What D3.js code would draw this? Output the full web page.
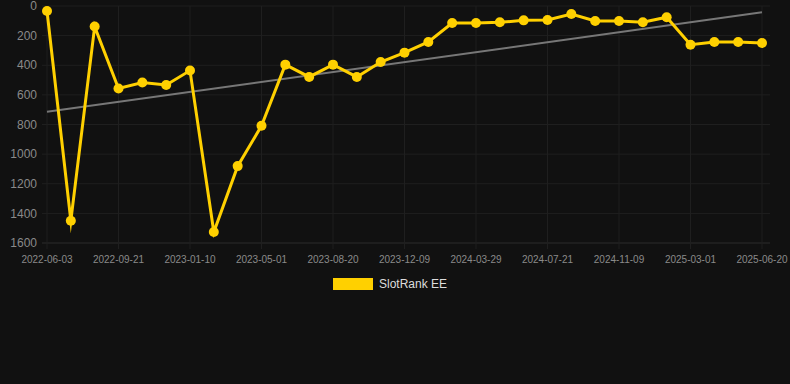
<!DOCTYPE html>
<html>
<head>
<meta charset="utf-8">
<script src="https://cdn.jsdelivr.net/npm/d3@7"></script>
<style>
  html, body { margin: 0; padding: 0; background: #111111; }
  svg { display: block; font-family: "Liberation Sans", Arial, sans-serif; }
</style>
</head>
<body>
<div id="chart"></div>
<script>
// dates of each rank snapshot (only every third one is labelled on the axis)
const dates = [
  "2022-06-03", "2022-07-10", "2022-08-15", "2022-09-21", "2022-10-28", "2022-12-04",
  "2023-01-10", "2023-02-16", "2023-03-25", "2023-05-01", "2023-06-07", "2023-07-14",
  "2023-08-20", "2023-09-26", "2023-11-02", "2023-12-09", "2024-01-15", "2024-02-21",
  "2024-03-29", "2024-05-05", "2024-06-14", "2024-07-21", "2024-08-27", "2024-10-03",
  "2024-11-09", "2024-12-16", "2025-01-22", "2025-03-01", "2025-04-07", "2025-05-14",
  "2025-06-20"
];
const rank = [
  34, 1450, 139, 557, 517, 533, 436, 1526, 1081, 809, 396, 479, 396, 479, 378, 315,
  243, 115, 115, 110, 97, 94, 54, 101, 101, 110, 76, 261, 243, 243, 250
];
const yTicks = [0, 200, 400, 600, 800, 1000, 1200, 1400, 1600];
const seriesName = "SlotRank EE";

const width = 790, height = 384;
const svg = d3.select("#chart").append("svg")
  .attr("width", width)
  .attr("height", height);

const x = d3.scalePoint()
  .domain(dates)
  .range([47, 762]);

// rank axis is reversed: best rank at the top
const y = d3.scaleLinear()
  .domain([0, 1600])
  .range([6, 243]);

const xTicks = dates.filter((d, i) => i % 3 === 0);

// grid
svg.append("g")
  .selectAll("line")
  .data(yTicks)
  .join("line")
  .attr("x1", 42).attr("x2", 770)
  .attr("y1", d => y(d)).attr("y2", d => y(d))
  .attr("stroke", d => d === 1600 ? "#2c2c2c" : "#1f1f1f")
  .attr("stroke-width", 1);

svg.append("g")
  .selectAll("line")
  .data(xTicks)
  .join("line")
  .attr("x1", d => x(d)).attr("x2", d => x(d))
  .attr("y1", 6).attr("y2", 249)
  .attr("stroke", "#1f1f1f")
  .attr("stroke-width", 1);

// y tick labels
svg.append("g")
  .selectAll("text")
  .data(yTicks)
  .join("text")
  .attr("x", 37)
  .attr("y", d => y(d))
  .attr("dy", "0.35em")
  .attr("text-anchor", "end")
  .attr("fill", "#8a8a8a")
  .attr("font-size", 12)
  .text(d => d);

// x tick labels
svg.append("g")
  .selectAll("text")
  .data(xTicks)
  .join("text")
  .attr("x", d => x(d))
  .attr("y", 259)
  .attr("dy", "0.35em")
  .attr("text-anchor", "middle")
  .attr("fill", "#8a8a8a")
  .attr("font-size", 10)
  .text(d => d);

// linear trend (least squares over the points)
const n = rank.length;
const mx = d3.mean(rank, (d, i) => i);
const my = d3.mean(rank);
const slope = d3.sum(rank, (d, i) => (i - mx) * (d - my)) / d3.sum(rank, (d, i) => (i - mx) ** 2);
const trend = [0, n - 1].map(i => [dates[i], my + slope * (i - mx)]);

svg.append("path")
  .datum(trend)
  .attr("fill", "none")
  .attr("stroke", "#777777")
  .attr("stroke-width", 2)
  .attr("d", d3.line().x(d => x(d[0])).y(d => y(d[1])));

// main series
const pts = dates.map((d, i) => [d, rank[i]]);

svg.append("path")
  .datum(pts)
  .attr("fill", "none")
  .attr("stroke", "#ffd000")
  .attr("stroke-width", 3)
  .attr("stroke-linejoin", "miter")
  .attr("stroke-miterlimit", 10)
  .attr("d", d3.line().x(d => x(d[0])).y(d => y(d[1])));

svg.append("g")
  .selectAll("circle")
  .data(pts)
  .join("circle")
  .attr("cx", d => x(d[0]))
  .attr("cy", d => y(d[1]))
  .attr("r", 5)
  .attr("fill", "#ffd000");

// legend
const legend = svg.append("g");
legend.append("rect")
  .attr("x", 333).attr("y", 278)
  .attr("width", 40).attr("height", 12)
  .attr("fill", "#ffd000");
legend.append("text")
  .attr("x", 379).attr("y", 284)
  .attr("dy", "0.35em")
  .attr("fill", "#dddddd")
  .attr("font-size", 12)
  .text(seriesName);
</script>
</body>
</html>
